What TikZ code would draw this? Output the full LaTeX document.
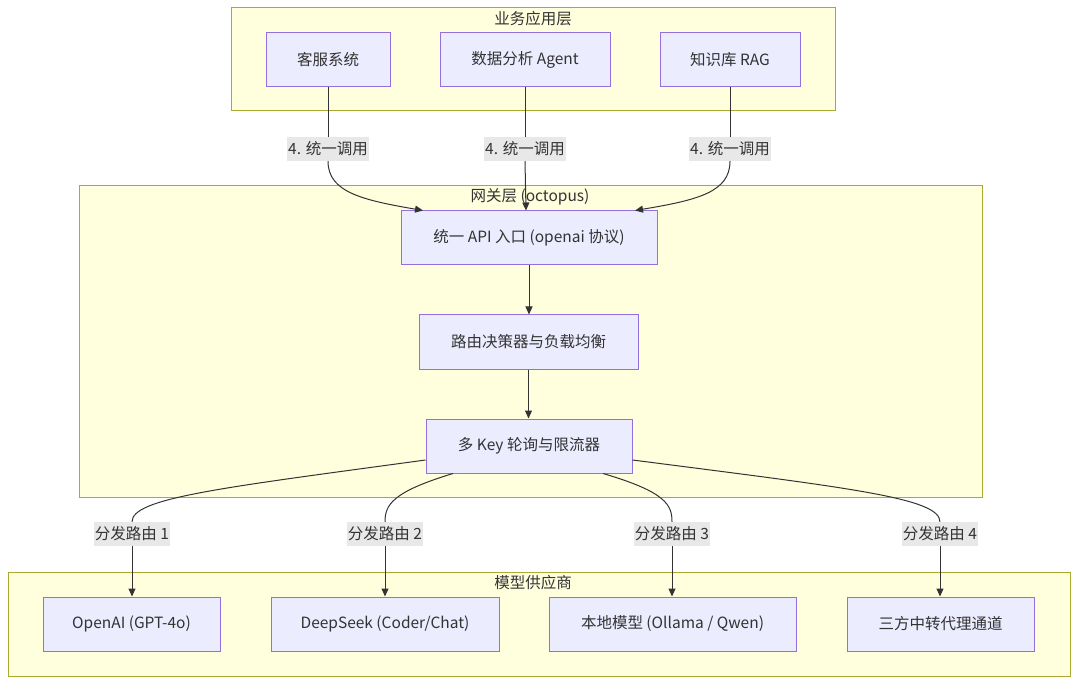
\documentclass[tikz,border=0pt]{standalone}
\usepackage{fontspec}
\setmainfont{Noto Sans CJK SC}
\usetikzlibrary{arrows.meta,positioning,calc}
\definecolor{ClusterFill}{HTML}{FFFFDE}
\definecolor{ClusterLine}{HTML}{AAAA33}
\definecolor{NodeFill}{HTML}{ECECFF}
\definecolor{NodeLine}{HTML}{9370DB}
\definecolor{EdgeGray}{HTML}{333333}
\definecolor{LabelGray}{HTML}{E8E8E8}
\definecolor{TextGray}{HTML}{333333}
\newcommand{\diagfont}{\fontsize{15.5}{18}\selectfont}

\begin{document}
\begin{tikzpicture}[x=1pt,y=-1pt,>={Triangle[length=8pt,width=7pt]},
  box/.style={draw=NodeLine,fill=NodeFill,line width=1pt,minimum height=54,inner sep=0pt,text=TextGray,font=\diagfont},
  lbl/.style={fill=LabelGray,inner xsep=1pt,inner ysep=0pt,minimum height=24,text=TextGray,font=\diagfont},
  cluster/.style={draw=ClusterLine,fill=ClusterFill,line width=1pt},
  layertitle/.style={text=TextGray,font=\diagfont,inner sep=0pt},
  flow/.style={draw=EdgeGray,line width=1pt}]
  \useasboundingbox (0,0) rectangle (1078,684);
  % layers
  \draw[cluster] (231,8) rectangle (835,111);
  \draw[cluster] (79,186) rectangle (982,497);
  \draw[cluster] (8,572) rectangle (1070,676);
  \node[layertitle] (tapp) at (533,19) {业务应用层};
  \node[layertitle] (tgate) at (530,197) {网关层 (octopus)};
  \node[layertitle] (tmodel) at (533,583) {模型供应商};
  % business nodes
  \node[box,minimum width=124] (kefu) at (328,59.5) {客服系统};
  \node[box,minimum width=170] (agent) at (525,59.5) {数据分析 Agent};
  \node[box,minimum width=140] (rag) at (730,59.5) {知识库 RAG};
  % gateway nodes
  \node[box,minimum width=256] (api) at (529,238) {统一 API 入口 (openai 协议)};
  \node[box,minimum width=219] (router) at (528.5,342) {路由决策器与负载均衡};
  \node[box,minimum width=206] (limiter) at (529,446) {多 Key 轮询与限流器};
  % providers
  \node[box,minimum width=177] (openai) at (131.5,624) {OpenAI (GPT-4o)};
  \node[box,minimum width=228] (deepseek) at (385,624) {DeepSeek (Coder/Chat)};
  \node[box,minimum width=247] (local) at (672.5,624) {本地模型 (Ollama / Qwen)};
  \node[box,minimum width=187] (relay) at (940.5,624) {三方中转代理通道};
  % edge labels
  \node[lbl] (call1) at (328,149) {4. 统一调用};
  \node[lbl] (call2) at (525,149) {4. 统一调用};
  \node[lbl] (call3) at (730,149) {4. 统一调用};
  \node[lbl] (route1) at (132,534) {分发路由 1};
  \node[lbl] (route2) at (385,534) {分发路由 2};
  \node[lbl] (route3) at (672,534) {分发路由 3};
  \node[lbl] (route4) at (940,534) {分发路由 4};
  % calls into the gateway
  \draw[flow] (kefu.south) -- (call1.north);
  \draw[flow,->] (call1.south) .. controls (328,192) and (362,200) .. ($(api.north)+(-106,0)$);
  \draw[flow] (agent.south) -- (call2.north);
  \draw[flow,->] (call2.south) -- ($(api.north)+(-3,0)$);
  \draw[flow] (rag.south) -- (call3.north);
  \draw[flow,->] (call3.south) .. controls (730,192) and (698,200) .. ($(api.north)+(106,0)$);
  % inside the gateway
  \draw[flow,->] (api.south) -- (api.south |- router.north);
  \draw[flow,->] (router.south) -- (router.south |- limiter.north);
  % dispatch
  \draw[flow] ($(limiter.west)+(0,14)$) .. controls (220,488) and (132,498) .. (route1.north);
  \draw[flow] ($(limiter.south)+(-76,0)$) .. controls (392,492) and (385,505) .. (route2.north);
  \draw[flow] ($(limiter.south)+(74,0)$) .. controls (666,492) and (672,505) .. (route3.north);
  \draw[flow] ($(limiter.east)+(0,14)$) .. controls (850,488) and (940,498) .. (route4.north);
  \draw[flow,->] (route1.south) -- (route1.south |- openai.north);
  \draw[flow,->] (route2.south) -- (route2.south |- deepseek.north);
  \draw[flow,->] (route3.south) -- (route3.south |- local.north);
  \draw[flow,->] (route4.south) -- (route4.south |- relay.north);
\end{tikzpicture}
\end{document}
